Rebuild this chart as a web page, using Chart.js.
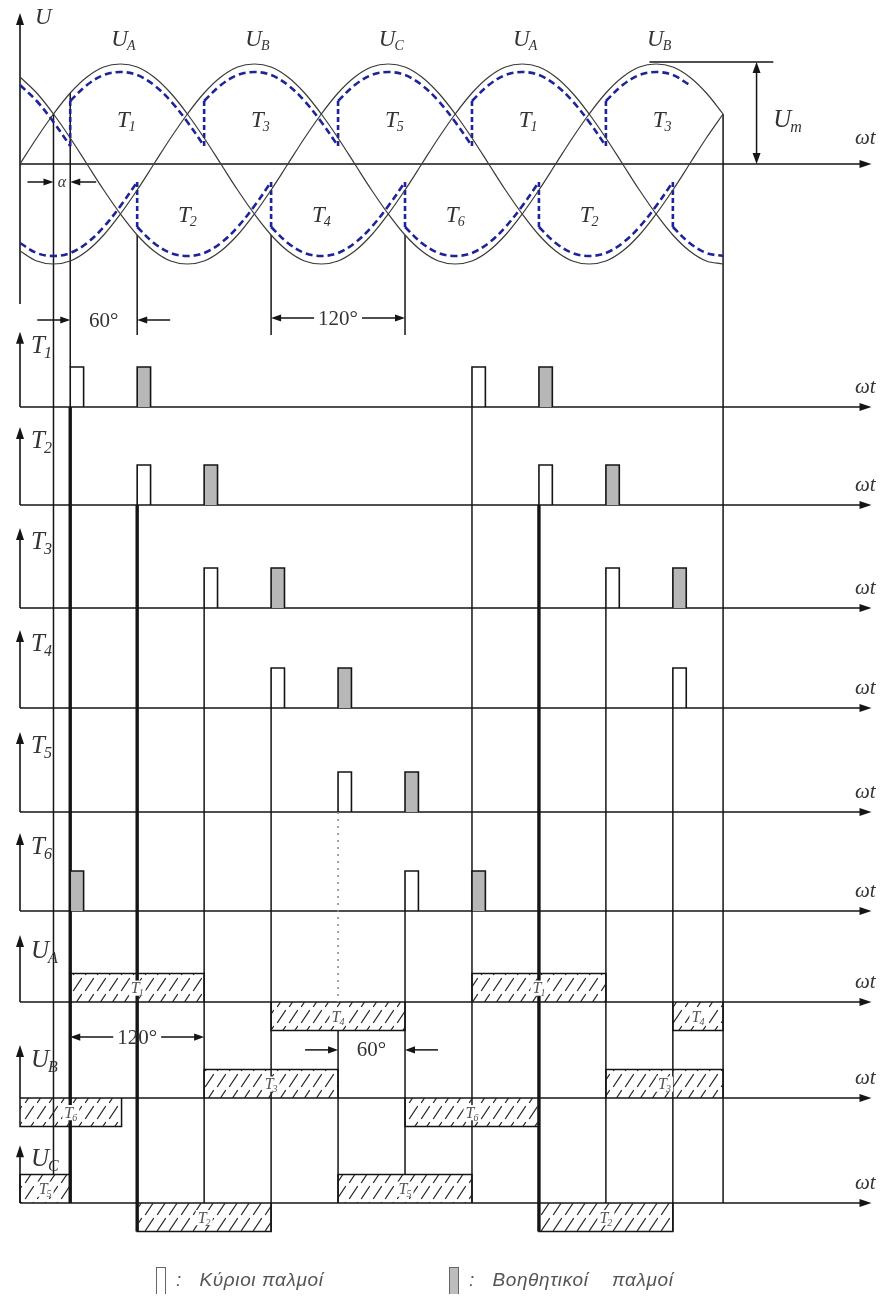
<!DOCTYPE html>
<html>
<head>
<meta charset="utf-8">
<title>Τριφασική γέφυρα – παλμοί έναυσης</title>
<script src="https://cdn.jsdelivr.net/npm/chart.js@4.4.1/dist/chart.umd.min.js"></script>
<style>
  html, body { margin: 0; padding: 0; background: #fff; }
  #wrap { position: relative; width: 885px; height: 1309px; overflow: hidden; }
  #c { position: absolute; left: 0; top: 0; }
  .item { position: absolute; top: 1266px; height: 28px; display: flex; align-items: center;
          font-family: "Liberation Sans", Arial, sans-serif; font-style: italic; font-size: 19px;
          letter-spacing: 0.6px; color: #555; }
  .sym { display: inline-block; width: 10px; height: 27px; box-sizing: border-box;
         border: 1.5px solid #666; border-bottom: none; margin-right: 10px; }
  .sym.aux { background: #bdbdbd; }
  .txt { white-space: pre; }
</style>
</head>
<body>
<div id="wrap">
  <canvas id="c" width="885" height="1309"></canvas>
  <div class="item" style="left:156px"><span class="sym"></span><span class="txt">:   Κύριοι παλμοί</span></div>
  <div class="item" style="left:449px"><span class="sym aux"></span><span class="txt">:   Βοηθητικοί    παλμοί</span></div>
</div>
<script>
// ---------------- data ----------------
// sample angles (degrees of ωt)
const SAMPLE_DEG = [0,15,30,45,60,75,90,105,120,135,150,165,180,195,210,225,240,255,270,285,
                    300,315,330,345,360,375,390,405,420,435,450,465,480,495,510,525,540,555,
                    570,585,600,615,630];
// one period of a phase voltage, per unit of Um, every 15°
const WAVE_SHAPE = [0,0.26,0.5,0.71,0.87,0.97,1,0.97,0.87,0.71,0.5,0.26,
                    0,-0.26,-0.5,-0.71,-0.87,-0.97,-1,-0.97,-0.87,-0.71,-0.5,-0.26];
// phase lag of each supply voltage (degrees)
const PHASE_LAG = { UA: 0, UB: 120, UC: 240 };

const NATURAL_DEG = 30;          // natural commutation point
const FIRING_DEG = [45,105,165,225,285,345,405,465,525,585]; // T1,T2,...,T6,T1,...
const END_DEG = 630;
const PULSE_DEG = 12;            // pulse duration

// positive rail: [phase, from, to]
const UPPER_RAIL = [['UC',0,45],['UA',45,165],['UB',165,285],['UC',285,405],['UA',405,525],['UB',525,600]];
// negative rail
const LOWER_RAIL = [['UB',0,105],['UC',105,225],['UA',225,345],['UB',345,465],['UC',465,585],['UA',585,630]];

// gate pulses for T1..T6
const MAIN_PULSES = [[45,405],[105,465],[165,525],[225,585],[285],[345]];
const AUX_PULSES  = [[105,465],[165,525],[225,585],[285],[345],[45,405]];

// conduction intervals of each phase current: [from, to, sign, thyristor]
const UA_BLOCKS = [[45,165,1,'1'],[225,345,-1,'4'],[405,525,1,'1'],[585,630,-1,'4']];
const UB_BLOCKS = [[0,91,-1,'6'],[165,285,1,'3'],[345,465,-1,'6'],[525,630,1,'3']];
const UC_BLOCKS = [[0,45,1,'5'],[105,225,-1,'2'],[285,405,1,'5'],[465,585,-1,'2']];

// thyristor names written inside the voltage lobes: [degree, index]
const TOP_UPPER_LABELS = [[90,'1'],[210,'3'],[330,'5'],[450,'1'],[570,'3']];
const TOP_LOWER_LABELS = [[150,'2'],[270,'4'],[390,'6'],[510,'2']];
const PHASE_LABELS = [[90,'A'],[210,'B'],[330,'C'],[450,'A'],[570,'B']];

// ---------------- layout ----------------
const W = 885, H = 1309;
const X0_PX = 20, PX_PER_DEG = 1.116;
const AXIS_END_DEG = 763;
const ROWS = [
  { id:'U',  zero:164,  unit:100,  top:1.51, bottom:-1.4, name:['U',''],  labelDy:3 },
  { id:'T1', zero:407,  unit:40,   top:1.88, bottom:0, name:['T','1'], labelDy:13 },
  { id:'T2', zero:505,  unit:40,   top:1.95, bottom:0, name:['T','2'], labelDy:13 },
  { id:'T3', zero:608,  unit:40,   top:2.0,  bottom:0, name:['T','3'], labelDy:13 },
  { id:'T4', zero:708,  unit:40,   top:1.95, bottom:0, name:['T','4'], labelDy:13 },
  { id:'T5', zero:812,  unit:40,   top:2.0,  bottom:0, name:['T','5'], labelDy:13 },
  { id:'T6', zero:911,  unit:40,   top:1.95, bottom:0, name:['T','6'], labelDy:13 },
  { id:'UA', zero:1002, unit:28.5, top:2.35, bottom:0, name:['U','A'], labelDy:15 },
  { id:'UB', zero:1098, unit:28.5, top:1.86, bottom:0, name:['U','B'], labelDy:14 },
  { id:'UC', zero:1203, unit:28.5, top:2.03, bottom:0, name:['U','C'], labelDy:13 }
];
const INK = '#151515', TEXT = '#333', BLUE = '#1d2399';
const SERIF = '"Liberation Serif", "DejaVu Serif", serif';
const RAIL_INSET = 0.08;

// vertical guides: degree + segments [rowFrom, valueFrom, rowTo, valueTo, kind]
const GUIDES = [
  { deg: NATURAL_DEG,   segs: [['U', 0.5, 'UC', 1, 'thin']] },
  { deg: FIRING_DEG[0], segs: [['U', 0.71, 'T1', 1, 'thin'], ['T1', 0, 'UC', 0, 'thick']] },
  { deg: FIRING_DEG[1], segs: [['U', -0.71, 'T1', 1.8, 'thin'], ['T2', 0, 'UC', -1, 'thick']] },
  { deg: FIRING_DEG[2], segs: [['T3', 0, 'UC', 0, 'thin']] },
  { deg: FIRING_DEG[3], segs: [['U', -0.71, 'T1', 1.8, 'thin'], ['T4', 0, 'UC', -1, 'thin']] },
  { deg: FIRING_DEG[4], segs: [['T5', 0, 'UA', 0, 'dot'], ['UA', -1, 'UC', 0, 'thin']] },
  { deg: FIRING_DEG[5], segs: [['U', -0.71, 'T1', 1.8, 'thin'], ['T6', 0, 'UC', 1, 'thin']] },
  { deg: FIRING_DEG[6], segs: [['T1', 0, 'UC', 0, 'thin']] },
  { deg: FIRING_DEG[7], segs: [['T2', 0, 'UC', -1, 'thick']] },
  { deg: FIRING_DEG[8], segs: [['T3', 0, 'UC', 0, 'thin']] },
  { deg: FIRING_DEG[9], segs: [['T4', 0, 'UC', -1, 'thin']] },
  { deg: END_DEG,       segs: [['U', 0.5, 'UC', 0, 'thin']] }
];

// dimension marks: row, value, interval, text, arrow style
const DIM_MARKS = [
  { row:'U',  v:-0.18, from:NATURAL_DEG, to:FIRING_DEG[0], text:'α',    style:'in',  len:26, italic:true, size:16 },
  { row:'U',  v:-1.56, from:FIRING_DEG[0], to:FIRING_DEG[1], text:'60°', style:'in', len:33, size:21 },
  { row:'U',  v:-1.54, from:FIRING_DEG[3], to:FIRING_DEG[5], text:'120°', style:'out', size:21 },
  { row:'UA', v:-1.23, from:FIRING_DEG[0], to:FIRING_DEG[2], text:'120°', style:'out', size:21 },
  { row:'UA', v:-1.68, from:FIRING_DEG[4], to:FIRING_DEG[5], text:'60°', style:'in', len:33, size:21 }
];

// ---------------- helpers ----------------
function phase(name, deg) {
  const n = WAVE_SHAPE.length;
  const i = Math.round((deg - PHASE_LAG[name]) / 15);
  return WAVE_SHAPE[((i % n) + n) % n];
}

// broken diagonal hatching for the conduction blocks
function hatchPattern() {
  const c = document.createElement('canvas');
  c.width = 12; c.height = 16;
  const g = c.getContext('2d');
  g.strokeStyle = '#262626'; g.lineWidth = 1.3; g.lineCap = 'round';
  g.beginPath(); g.moveTo(1.5, 14.5); g.lineTo(9.5, 2.5); g.stroke();
  return document.getElementById('c').getContext('2d').createPattern(c, 'repeat');
}

function lineDs(data, axis, extra) {
  return Object.assign({
    data, yAxisID: 'y' + axis, borderColor: INK, borderWidth: 1.5,
    pointRadius: 0, tension: 0, fill: false
  }, extra || {});
}

// ---------------- datasets ----------------
const datasets = [];

// supply voltages
['UA','UB','UC'].forEach(ph => {
  datasets.push(lineDs(SAMPLE_DEG.map(d => ({ x: d, y: phase(ph, d) })), 'U',
    { borderColor: '#3a3a3a', borderWidth: 1.2, tension: 0.36 }));
});

// rectified rail voltages (blue dashed)
function addRail(rail, shift) {
  rail.forEach(([ph, a, b], k) => {
    const pts = SAMPLE_DEG.filter(d => d >= a && d <= b).map(d => ({ x: d, y: phase(ph, d) + shift }));
    datasets.push(lineDs(pts, 'U', { borderColor: BLUE, borderWidth: 2.6, borderDash: [7, 4], tension: 0.36 }));
    if (k > 0) {
      const prev = rail[k - 1][0];
      datasets.push(lineDs([{ x: a, y: phase(prev, a) + shift }, { x: a, y: phase(ph, a) + shift }], 'U',
        { borderColor: BLUE, borderWidth: 2.6, borderDash: [5, 3] }));
    }
  });
}
addRail(UPPER_RAIL, -RAIL_INSET);
addRail(LOWER_RAIL, RAIL_INSET);

// gate pulses
function pulse(row, deg, aux) {
  datasets.push(lineDs([{ x: deg, y: 0 }, { x: deg, y: 1 }, { x: deg + PULSE_DEG, y: 1 }, { x: deg + PULSE_DEG, y: 0 }],
    row, { borderWidth: 1.6, fill: aux ? 'origin' : false, backgroundColor: '#b7b7b7' }));
}
MAIN_PULSES.forEach((list, i) => list.forEach(d => pulse('T' + (i + 1), d, false)));
AUX_PULSES.forEach((list, i) => list.forEach(d => pulse('T' + (i + 1), d, true)));

// conduction blocks
const hatch = hatchPattern();
const BLOCK_ROWS = [['UA', UA_BLOCKS], ['UB', UB_BLOCKS], ['UC', UC_BLOCKS]];
BLOCK_ROWS.forEach(([row, blocks]) => blocks.forEach(([a, b, s]) => {
  datasets.push(lineDs([{ x: a, y: 0 }, { x: a, y: s }, { x: b, y: s }, { x: b, y: 0 }], row,
    { borderWidth: 1.5, fill: 'origin', backgroundColor: hatch }));
}));

// ---------------- scales ----------------
const scales = {
  x: { type: 'linear', display: false, min: -X0_PX / PX_PER_DEG, max: (W - X0_PX) / PX_PER_DEG }
};
ROWS.forEach(r => {
  scales['y' + r.id] = { type: 'linear', display: false, min: -(H - r.zero) / r.unit, max: r.zero / r.unit };
});

// ---------------- drawing helpers ----------------
function seg(ctx, x1, y1, x2, y2, w, color, dash) {
  ctx.save();
  ctx.strokeStyle = color || INK; ctx.lineWidth = w || 1.5; ctx.setLineDash(dash || []);
  ctx.beginPath(); ctx.moveTo(x1, y1); ctx.lineTo(x2, y2); ctx.stroke();
  ctx.restore();
}
function head(ctx, x, y, dir, len, half) {
  len = len || 10; half = half || 3.6;
  ctx.save(); ctx.fillStyle = INK; ctx.beginPath();
  if (dir === 'right') { ctx.moveTo(x, y); ctx.lineTo(x - len, y - half); ctx.lineTo(x - len, y + half); }
  if (dir === 'left')  { ctx.moveTo(x, y); ctx.lineTo(x + len, y - half); ctx.lineTo(x + len, y + half); }
  if (dir === 'up')    { ctx.moveTo(x, y); ctx.lineTo(x - half, y + len); ctx.lineTo(x + half, y + len); }
  if (dir === 'down')  { ctx.moveTo(x, y); ctx.lineTo(x - half, y - len); ctx.lineTo(x + half, y - len); }
  ctx.closePath(); ctx.fill(); ctx.restore();
}
// main letter with subscript; (x, cy) = left or centre, vertical centre
function subLabel(ctx, main, sub, x, cy, size, align, color, backing) {
  const f1 = `italic ${size}px ${SERIF}`, f2 = `italic ${Math.round(size * 0.62)}px ${SERIF}`;
  ctx.save();
  ctx.font = f1; const w1 = ctx.measureText(main).width;
  ctx.font = f2; const w2 = sub ? ctx.measureText(sub).width : 0;
  const total = w1 + w2 - (sub ? 1 : 0);
  const left = align === 'center' ? x - total / 2 : x;
  const base = cy + size * 0.33;
  if (backing) { ctx.fillStyle = '#fff'; ctx.fillRect(left - 2, cy - size * 0.45, total + 4, size * 0.95); }
  ctx.fillStyle = color || TEXT; ctx.textBaseline = 'alphabetic'; ctx.textAlign = 'left';
  ctx.font = f1; ctx.fillText(main, left, base);
  if (sub) { ctx.font = f2; ctx.fillText(sub, left + w1 - 1, base + size * 0.2); }
  ctx.restore();
}

// ---------------- plugin: axes, guides, texts ----------------
const diagramDecor = {
  id: 'diagramDecor',
  beforeDatasetsDraw(chart) {
    const ctx = chart.ctx, xs = chart.scales.x;
    const Y = id => chart.scales['y' + id];
    const xa = xs.getPixelForValue(0), xe = xs.getPixelForValue(AXIS_END_DEG);
    ROWS.forEach(r => {
      const ys = Y(r.id), y0 = ys.getPixelForValue(0);
      seg(ctx, xa, y0, xe - 8, y0, 1.6);
      head(ctx, xe, y0, 'right', 12, 4);
      const yt = ys.getPixelForValue(r.top), yb = ys.getPixelForValue(r.bottom);
      seg(ctx, xa, yb, xa, yt + 8, 1.6);
      head(ctx, xa, yt, 'up', 12, 4);
    });
    // vertical guides
    GUIDES.forEach(g => {
      const px = xs.getPixelForValue(g.deg);
      g.segs.forEach(([r1, v1, r2, v2, kind]) => {
        const y1 = Y(r1).getPixelForValue(v1), y2 = Y(r2).getPixelForValue(v2);
        if (kind === 'dot') seg(ctx, px, y1, px, y2, 1.6, '#8c8c8c', [2, 5]);
        else seg(ctx, px, y1, px, y2, kind === 'thick' ? 3.4 : 1.5, INK);
      });
    });
  },
  afterDatasetsDraw(chart) {
    const ctx = chart.ctx, xs = chart.scales.x;
    const Y = id => chart.scales['y' + id];
    const X = d => xs.getPixelForValue(d);
    const xa = X(0);

    // row names and ωt labels
    ROWS.forEach(r => {
      const ys = Y(r.id), y0 = ys.getPixelForValue(0), yt = ys.getPixelForValue(r.top);
      subLabel(ctx, r.name[0], r.name[1], xa + (r.id === 'U' ? 15 : 11), yt + r.labelDy, r.id === 'U' ? 23 : 25, 'left');
      ctx.save();
      ctx.font = `italic 21px ${SERIF}`; ctx.fillStyle = TEXT; ctx.textBaseline = 'middle';
      ctx.fillText('ωt', 855, y0 - (r.id === 'U' ? 26 : 20));
      ctx.restore();
    });

    // phase names above the positive peaks
    PHASE_LABELS.forEach(([d, s]) => subLabel(ctx, 'U', s, X(d) + 3, Y('U').getPixelForValue(1.26), 23, 'center'));
    // thyristor names inside the lobes
    TOP_UPPER_LABELS.forEach(([d, s]) => subLabel(ctx, 'T', s, X(d) + 6, Y('U').getPixelForValue(0.45), 23, 'center'));
    TOP_LOWER_LABELS.forEach(([d, s]) => subLabel(ctx, 'T', s, X(d), Y('U').getPixelForValue(-0.5), 23, 'center'));

    // Um marker
    const yU = Y('U');
    seg(ctx, X(564), yU.getPixelForValue(1.02), X(675), yU.getPixelForValue(1.02), 1.5);
    const xm = X(660), ym1 = yU.getPixelForValue(1.02), ym0 = yU.getPixelForValue(0);
    seg(ctx, xm, ym1 + 8, xm, ym0 - 8, 1.5);
    head(ctx, xm, ym1, 'up', 11, 4); head(ctx, xm, ym0, 'down', 11, 4);
    subLabel(ctx, 'U', 'm', X(675), yU.getPixelForValue(0.45), 25, 'left');

    // dimension marks
    DIM_MARKS.forEach(m => {
      const y = Y(m.row).getPixelForValue(m.v), a = X(m.from), b = X(m.to), mid = (a + b) / 2;
      ctx.save();
      ctx.font = `${m.italic ? 'italic ' : ''}${m.size}px ${SERIF}`;
      ctx.fillStyle = TEXT; ctx.textAlign = 'center'; ctx.textBaseline = 'middle';
      const tw = ctx.measureText(m.text).width;
      ctx.fillText(m.text, mid, y + 1);
      ctx.restore();
      if (m.style === 'in') {
        seg(ctx, a - m.len, y, a - 8, y, 1.5); head(ctx, a, y, 'right', 10, 3.6);
        seg(ctx, b + m.len, y, b + 8, y, 1.5); head(ctx, b, y, 'left', 10, 3.6);
      } else {
        seg(ctx, mid - tw / 2 - 4, y, a + 8, y, 1.5); head(ctx, a, y, 'left', 10, 3.6);
        seg(ctx, mid + tw / 2 + 4, y, b - 8, y, 1.5); head(ctx, b, y, 'right', 10, 3.6);
      }
    });

    // labels inside the conduction blocks
    BLOCK_ROWS.forEach(([row, blocks]) => blocks.forEach(([a, b, s, k]) => {
      subLabel(ctx, 'T', k, X((a + b) / 2), Y(row).getPixelForValue(s * 0.5), 16, 'center', '#555', true);
    }));
  }
};

new Chart(document.getElementById('c'), {
  type: 'line',
  data: { datasets },
  options: {
    responsive: false,
    animation: false,
    devicePixelRatio: 1,
    events: [],
    layout: { padding: 0 },
    scales,
    plugins: { legend: { display: false }, tooltip: { enabled: false } },
    elements: { point: { radius: 0 } }
  },
  plugins: [diagramDecor]
});
</script>
</body>
</html>
